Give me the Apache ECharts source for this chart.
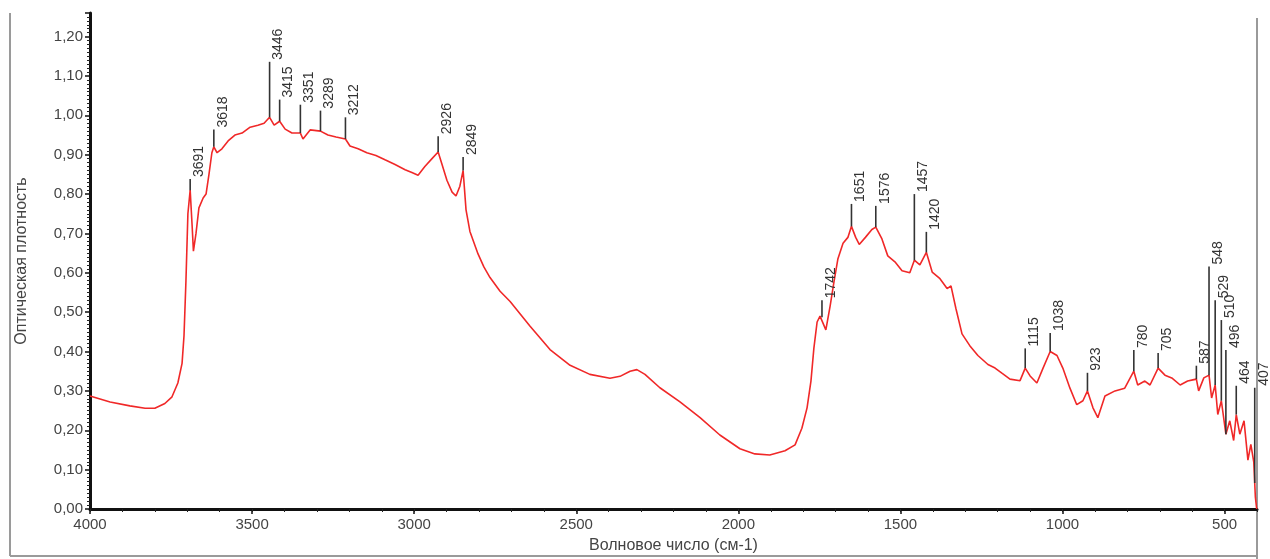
<!DOCTYPE html>
<html>
<head>
<meta charset="utf-8">
<script src="https://cdn.jsdelivr.net/npm/echarts@6/dist/echarts.min.js"></script>
<style>
html,body{margin:0;padding:0;background:#fff;}
#chart{width:1270px;height:559px;}
</style>
</head>
<body>
<div id="chart"></div>
<script>
// Spectrum (wavenumber, cm-1) and optical density
const wavenumbers = [4000,3938,3877,3830,3800,3769,3747,3729,3716,3710,3704,3698,3691,3685,3681,3673,3664,3651,3642,3633,3624,3618,3608,3593,3574,3553,3531,3506,3482,3463,3446,3432,3415,3398,3377,3351,3343,3321,3289,3266,3241,3212,3198,3173,3146,3118,3090,3059,3028,3007,2988,2967,2945,2926,2914,2899,2883,2871,2859,2849,2840,2828,2803,2785,2766,2735,2704,2643,2581,2519,2458,2396,2365,2334,2313,2288,2242,2180,2118,2057,1995,1949,1903,1856,1825,1804,1788,1776,1767,1757,1748,1742,1730,1717,1705,1693,1677,1662,1651,1638,1627,1608,1588,1576,1557,1539,1517,1495,1471,1457,1440,1420,1402,1378,1356,1344,1329,1310,1286,1261,1230,1208,1187,1162,1131,1115,1100,1079,1060,1038,1017,999,977,956,937,923,906,891,869,838,808,780,768,746,730,705,684,663,637,614,598,587,580,564,548,540,529,521,510,496,484,472,464,453,440,428,419,410,405,401];
const absorbance = [0.287,0.272,0.262,0.256,0.256,0.268,0.285,0.32,0.37,0.44,0.58,0.75,0.81,0.72,0.655,0.70,0.765,0.79,0.80,0.85,0.905,0.92,0.905,0.915,0.935,0.95,0.955,0.97,0.975,0.98,0.995,0.975,0.985,0.965,0.955,0.955,0.94,0.963,0.96,0.95,0.945,0.94,0.922,0.915,0.905,0.898,0.887,0.875,0.862,0.855,0.848,0.87,0.89,0.907,0.875,0.835,0.805,0.795,0.82,0.86,0.76,0.705,0.648,0.615,0.588,0.553,0.527,0.465,0.405,0.365,0.342,0.332,0.337,0.35,0.354,0.342,0.308,0.272,0.232,0.188,0.153,0.14,0.137,0.148,0.163,0.205,0.257,0.325,0.408,0.475,0.49,0.487,0.455,0.515,0.577,0.635,0.675,0.69,0.718,0.69,0.672,0.69,0.71,0.716,0.686,0.643,0.628,0.605,0.60,0.632,0.62,0.652,0.602,0.585,0.56,0.567,0.51,0.445,0.415,0.39,0.367,0.358,0.345,0.33,0.326,0.358,0.338,0.32,0.358,0.40,0.39,0.358,0.307,0.265,0.275,0.30,0.257,0.232,0.287,0.30,0.307,0.35,0.315,0.325,0.315,0.358,0.34,0.333,0.315,0.325,0.328,0.33,0.30,0.333,0.34,0.282,0.315,0.24,0.275,0.19,0.224,0.174,0.24,0.19,0.224,0.124,0.164,0.12,0.03,0.0];

// Marked peaks and the height of their marker lines
const peakWn = [3691,3618,3446,3415,3351,3289,3212,2926,2849,1742,1651,1576,1457,1420,1115,1038,923,780,705,587,548,529,510,496,464,407];
const peakTop = [0.838,0.964,1.136,1.04,1.027,1.012,0.995,0.947,0.894,0.53,0.775,0.77,0.80,0.704,0.408,0.447,0.346,0.404,0.396,0.364,0.616,0.53,0.48,0.404,0.313,0.308];

// Axis tick values
const xTickValues = [4000,3500,3000,2500,2000,1500,1000,500];
const yTickMax = 1.2;

function curveAt(wn){
  for (let i=0;i<wavenumbers.length-1;i++){
    const a=wavenumbers[i], b=wavenumbers[i+1];
    if ((wn<=a && wn>=b)){
      const t=(a-wn)/(a-b);
      return absorbance[i]+(absorbance[i+1]-absorbance[i])*t;
    }
  }
  return 0;
}

const lineData = wavenumbers.map((w,i)=>[w,absorbance[i]]);
const peakData = peakWn.map((w,i)=>[w, curveAt(w), peakTop[i], String(w)]);

const FONT = 'Liberation Sans, Arial, sans-serif';
const chart = echarts.init(document.getElementById('chart'), null, {renderer:'canvas'});
chart.setOption({
  animation:false,
  backgroundColor:'#fff',
  grid:{left:90,right:13,top:13,bottom:47},
  graphic:[
    {type:'line', z:-10, shape:{x1:10,y1:13,x2:10,y2:556}, style:{stroke:'#9a9a9a',lineWidth:2}},
    {type:'line', z:-10, shape:{x1:10,y1:556,x2:1257,y2:556}, style:{stroke:'#9a9a9a',lineWidth:2}},
    {type:'line', z:-10, shape:{x1:1257,y1:18,x2:1257,y2:559}, style:{stroke:'#9a9a9a',lineWidth:2}}
  ],
  xAxis:[{
    type:'value', inverse:true, min:400, max:4000, position:'bottom',
    name:'Волновое число (см-1)', nameLocation:'middle', nameGap:29,
    nameTextStyle:{fontFamily:FONT,fontSize:16,color:'#444',backgroundColor:'#fff',padding:[0,4]},
    axisLine:{show:true,lineStyle:{color:'#111',width:3}},
    axisTick:{show:true,length:5,lineStyle:{color:'#111',width:1.5},customValues:xTickValues},
    axisLabel:{fontFamily:FONT,fontSize:15,color:'#444',margin:8,customValues:xTickValues,
      formatter:function(v){ return String(v); }},
    splitLine:{show:false}
  },{
    type:'value', inverse:true, min:400, max:4000, interval:100, position:'bottom',
    axisLine:{show:false},
    axisTick:{show:true,length:3,lineStyle:{color:'#222',width:1}},
    axisLabel:{show:false},
    splitLine:{show:false}
  }],
  yAxis:[{
    type:'value', min:0, max:1.26, interval:0.1, position:'left',
    name:'Оптическая плотность', nameLocation:'middle', nameGap:60,
    nameTextStyle:{fontFamily:FONT,fontSize:16,color:'#444',backgroundColor:'#fff',padding:[0,4]},
    axisLine:{show:true,lineStyle:{color:'#111',width:3}},
    axisTick:{show:true,length:5,lineStyle:{color:'#111',width:1.5}},
    minorTick:{show:true,splitNumber:10,length:3,lineStyle:{color:'#222',width:1}},
    axisLabel:{fontFamily:FONT,fontSize:15,color:'#444',margin:7,
      formatter:function(v){ return v<=yTickMax+1e-9 ? v.toFixed(2).replace('.',',') : ''; }},
    splitLine:{show:false}
  }],
  series:[{
    type:'line', data:lineData, xAxisIndex:0, yAxisIndex:0,
    showSymbol:false, symbol:'none', smooth:false,
    lineStyle:{color:'#f02828',width:1.6},
    z:3
  },{
    type:'custom', data:peakData, xAxisIndex:0, yAxisIndex:0, clip:false, z:4,
    renderItem:function(params, api){
      const p1 = api.coord([api.value(0), api.value(1)]);
      const p2 = api.coord([api.value(0), api.value(2)]);
      const label = peakData[params.dataIndex][3];
      return {type:'group', children:[
        {type:'line', shape:{x1:p1[0],y1:p1[1],x2:p2[0],y2:p2[1]}, style:{stroke:'#333',lineWidth:1.6}},
        {type:'text', x:p2[0]+9, y:p2[1]-2, rotation:Math.PI/2,
         style:{text:label, fontFamily:FONT, fontSize:14, fill:'#333', align:'left', verticalAlign:'middle'}}
      ]};
    }
  }]
});
</script>
</body>
</html>
